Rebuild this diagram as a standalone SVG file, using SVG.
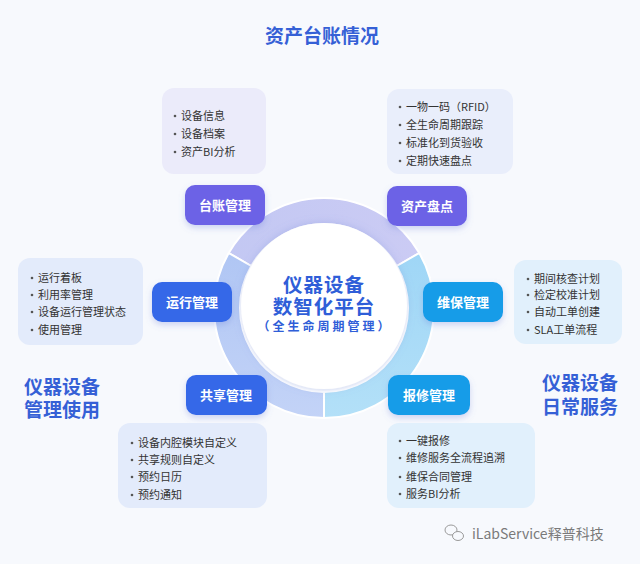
<svg xmlns="http://www.w3.org/2000/svg" width="640" height="564" viewBox="0 0 640 564">
<defs>
<style>
text{font-family:"Noto Sans CJK SC","Noto Sans",sans-serif;}
.h{font-size:19px;font-weight:bold;fill:#3560d6;text-anchor:middle;}
.pill text{font-size:13px;font-weight:bold;fill:#fff;text-anchor:middle;}
.it{font-size:11px;fill:#333;}
.dot{fill:#555;}
.c1{font-size:19.5px;font-weight:bold;fill:#2f5ed8;text-anchor:middle;letter-spacing:1px;}
.c2{font-size:12px;font-weight:bold;fill:#2f5ed8;text-anchor:middle;letter-spacing:3px;}
</style>
<filter id="sh" x="-30%" y="-30%" width="160%" height="170%">
<feDropShadow dx="0" dy="3" stdDeviation="3" flood-color="#6a7fd8" flood-opacity="0.3"/>
</filter>
<filter id="csh" x="-20%" y="-20%" width="140%" height="140%">
<feDropShadow dx="0" dy="0" stdDeviation="4" flood-color="#7a8fd8" flood-opacity="0.35"/>
</filter>
<linearGradient id="gL" x1="0" y1="0" x2="0" y2="1">
<stop offset="0" stop-color="#b0c6f4"/><stop offset="1" stop-color="#c3d3f7"/>
</linearGradient>
<linearGradient id="gR" x1="0" y1="0" x2="0" y2="1">
<stop offset="0" stop-color="#9fd6f6"/><stop offset="1" stop-color="#b3e0f8"/>
</linearGradient>
<linearGradient id="gT" x1="0" y1="0" x2="1" y2="0">
<stop offset="0" stop-color="#c3c8f3"/><stop offset="1" stop-color="#cbcbf4"/>
</linearGradient>
</defs>
<rect width="640" height="564" fill="#f7f9fd"/>

<g id="headings">
<text class="h" x="322" y="43">资产台账情况</text>
<text class="h" x="62" y="394">仪器设备</text>
<text class="h" x="62" y="417">管理使用</text>
<text class="h" x="580" y="390">仪器设备</text>
<text class="h" x="580" y="414">日常服务</text>
</g>

<g id="ring" stroke="#ffffff" stroke-width="2">
<path d="M228.74,253 A110,110 0 0 1 419.26,253 L396.75,266 A84,84 0 0 0 251.25,266 Z" fill="url(#gT)"/>
<path d="M419.26,253 A110,110 0 0 1 324,418 L324,392 A84,84 0 0 0 396.75,266 Z" fill="url(#gR)"/>
<path d="M324,418 A110,110 0 0 1 228.74,253 L251.25,266 A84,84 0 0 0 324,392 Z" fill="url(#gL)"/>
</g>

<g id="center">
<circle cx="324" cy="306" r="83" fill="#ffffff" filter="url(#csh)"/>
<text class="c1" x="324" y="292">仪器设备</text>
<text class="c1" x="324" y="314">数智化平台</text>
<text class="c2" x="325" y="331">（全生命周期管理）</text>
</g>

<g id="connectors"></g>

<g id="n-taizhang" class="pill">
<rect x="185" y="185" width="80" height="40" rx="10" fill="#6c62e6" filter="url(#sh)"/>
<text x="225" y="210">台账管理</text>
</g>
<g id="n-zichan" class="pill">
<rect x="387" y="186" width="80" height="40" rx="10" fill="#6c62e6" filter="url(#sh)"/>
<text x="427" y="211">资产盘点</text>
</g>
<g id="n-yunxing" class="pill">
<rect x="152" y="282" width="80" height="40" rx="10" fill="#3468e8" filter="url(#sh)"/>
<text x="192" y="307">运行管理</text>
</g>
<g id="n-weibao" class="pill">
<rect x="423" y="282" width="80" height="40" rx="10" fill="#159ce8" filter="url(#sh)"/>
<text x="463" y="307">维保管理</text>
</g>
<g id="n-gongxiang" class="pill">
<rect x="186" y="375" width="81" height="40" rx="10" fill="#3468e8" filter="url(#sh)"/>
<text x="226" y="400">共享管理</text>
</g>
<g id="n-baoxiu" class="pill">
<rect x="388" y="375" width="82" height="40" rx="10" fill="#159ce8" filter="url(#sh)"/>
<text x="429" y="400">报修管理</text>
</g>

<g id="b-taizhang">
<rect x="162" y="88" width="104" height="86" rx="12" fill="#ebebfa"/>
<circle class="dot" cx="175" cy="116" r="1.3"/><text class="it" x="181" y="120">设备信息</text>
<circle class="dot" cx="175" cy="134" r="1.3"/><text class="it" x="181" y="138">设备档案</text>
<circle class="dot" cx="175" cy="152" r="1.3"/><text class="it" x="181" y="156">资产BI分析</text>
</g>
<g id="b-zichan">
<rect x="387" y="89" width="126" height="85" rx="12" fill="#e9eefb"/>
<circle class="dot" cx="400" cy="107" r="1.3"/><text class="it" x="406" y="111">一物一码（RFID）</text>
<circle class="dot" cx="400" cy="125" r="1.3"/><text class="it" x="406" y="129">全生命周期跟踪</text>
<circle class="dot" cx="400" cy="143" r="1.3"/><text class="it" x="406" y="147">标准化到货验收</text>
<circle class="dot" cx="400" cy="161" r="1.3"/><text class="it" x="406" y="165">定期快速盘点</text>
</g>
<g id="b-yunxing">
<rect x="18" y="258" width="125" height="87" rx="12" fill="#e3ebfb"/>
<circle class="dot" cx="32" cy="278" r="1.3"/><text class="it" x="38" y="282">运行着板</text>
<circle class="dot" cx="32" cy="295" r="1.3"/><text class="it" x="38" y="299">利用率管理</text>
<circle class="dot" cx="32" cy="312" r="1.3"/><text class="it" x="38" y="316">设备运行管理状态</text>
<circle class="dot" cx="32" cy="330" r="1.3"/><text class="it" x="38" y="334">使用管理</text>
</g>
<g id="b-weibao">
<rect x="514" y="260" width="108" height="84" rx="12" fill="#e1f0fc"/>
<circle class="dot" cx="528" cy="279" r="1.3"/><text class="it" x="534" y="283">期间核查计划</text>
<circle class="dot" cx="528" cy="295" r="1.3"/><text class="it" x="534" y="299">检定校准计划</text>
<circle class="dot" cx="528" cy="312" r="1.3"/><text class="it" x="534" y="316">自动工单创建</text>
<circle class="dot" cx="528" cy="330" r="1.3"/><text class="it" x="534" y="334">SLA工单流程</text>
</g>
<g id="b-gongxiang">
<rect x="118" y="423" width="149" height="85" rx="12" fill="#e3ebfb"/>
<circle class="dot" cx="132" cy="443" r="1.3"/><text class="it" x="138" y="447">设备内腔模块自定义</text>
<circle class="dot" cx="132" cy="460" r="1.3"/><text class="it" x="138" y="464">共享规则自定义</text>
<circle class="dot" cx="132" cy="477" r="1.3"/><text class="it" x="138" y="481">预约日历</text>
<circle class="dot" cx="132" cy="495" r="1.3"/><text class="it" x="138" y="499">预约通知</text>
</g>
<g id="b-baoxiu">
<rect x="387" y="423" width="148" height="85" rx="12" fill="#e1f0fc"/>
<circle class="dot" cx="400" cy="441" r="1.3"/><text class="it" x="406" y="445">一键报修</text>
<circle class="dot" cx="400" cy="458" r="1.3"/><text class="it" x="406" y="462">维修服务全流程追溯</text>
<circle class="dot" cx="400" cy="477" r="1.3"/><text class="it" x="406" y="481">维保合同管理</text>
<circle class="dot" cx="400" cy="494" r="1.3"/><text class="it" x="406" y="498">服务BI分析</text>
</g>

<g id="watermark" fill="none" stroke="#9a9a9a" stroke-width="1">
<ellipse cx="451" cy="530" rx="6" ry="5"/>
<ellipse cx="458" cy="536" rx="5.5" ry="4.5" fill="#f7f9fd"/>
<text x="472" y="539" stroke="none" fill="#7a7a7a" style="font-size:14px;">iLabService释普科技</text>
</g>
</svg>
